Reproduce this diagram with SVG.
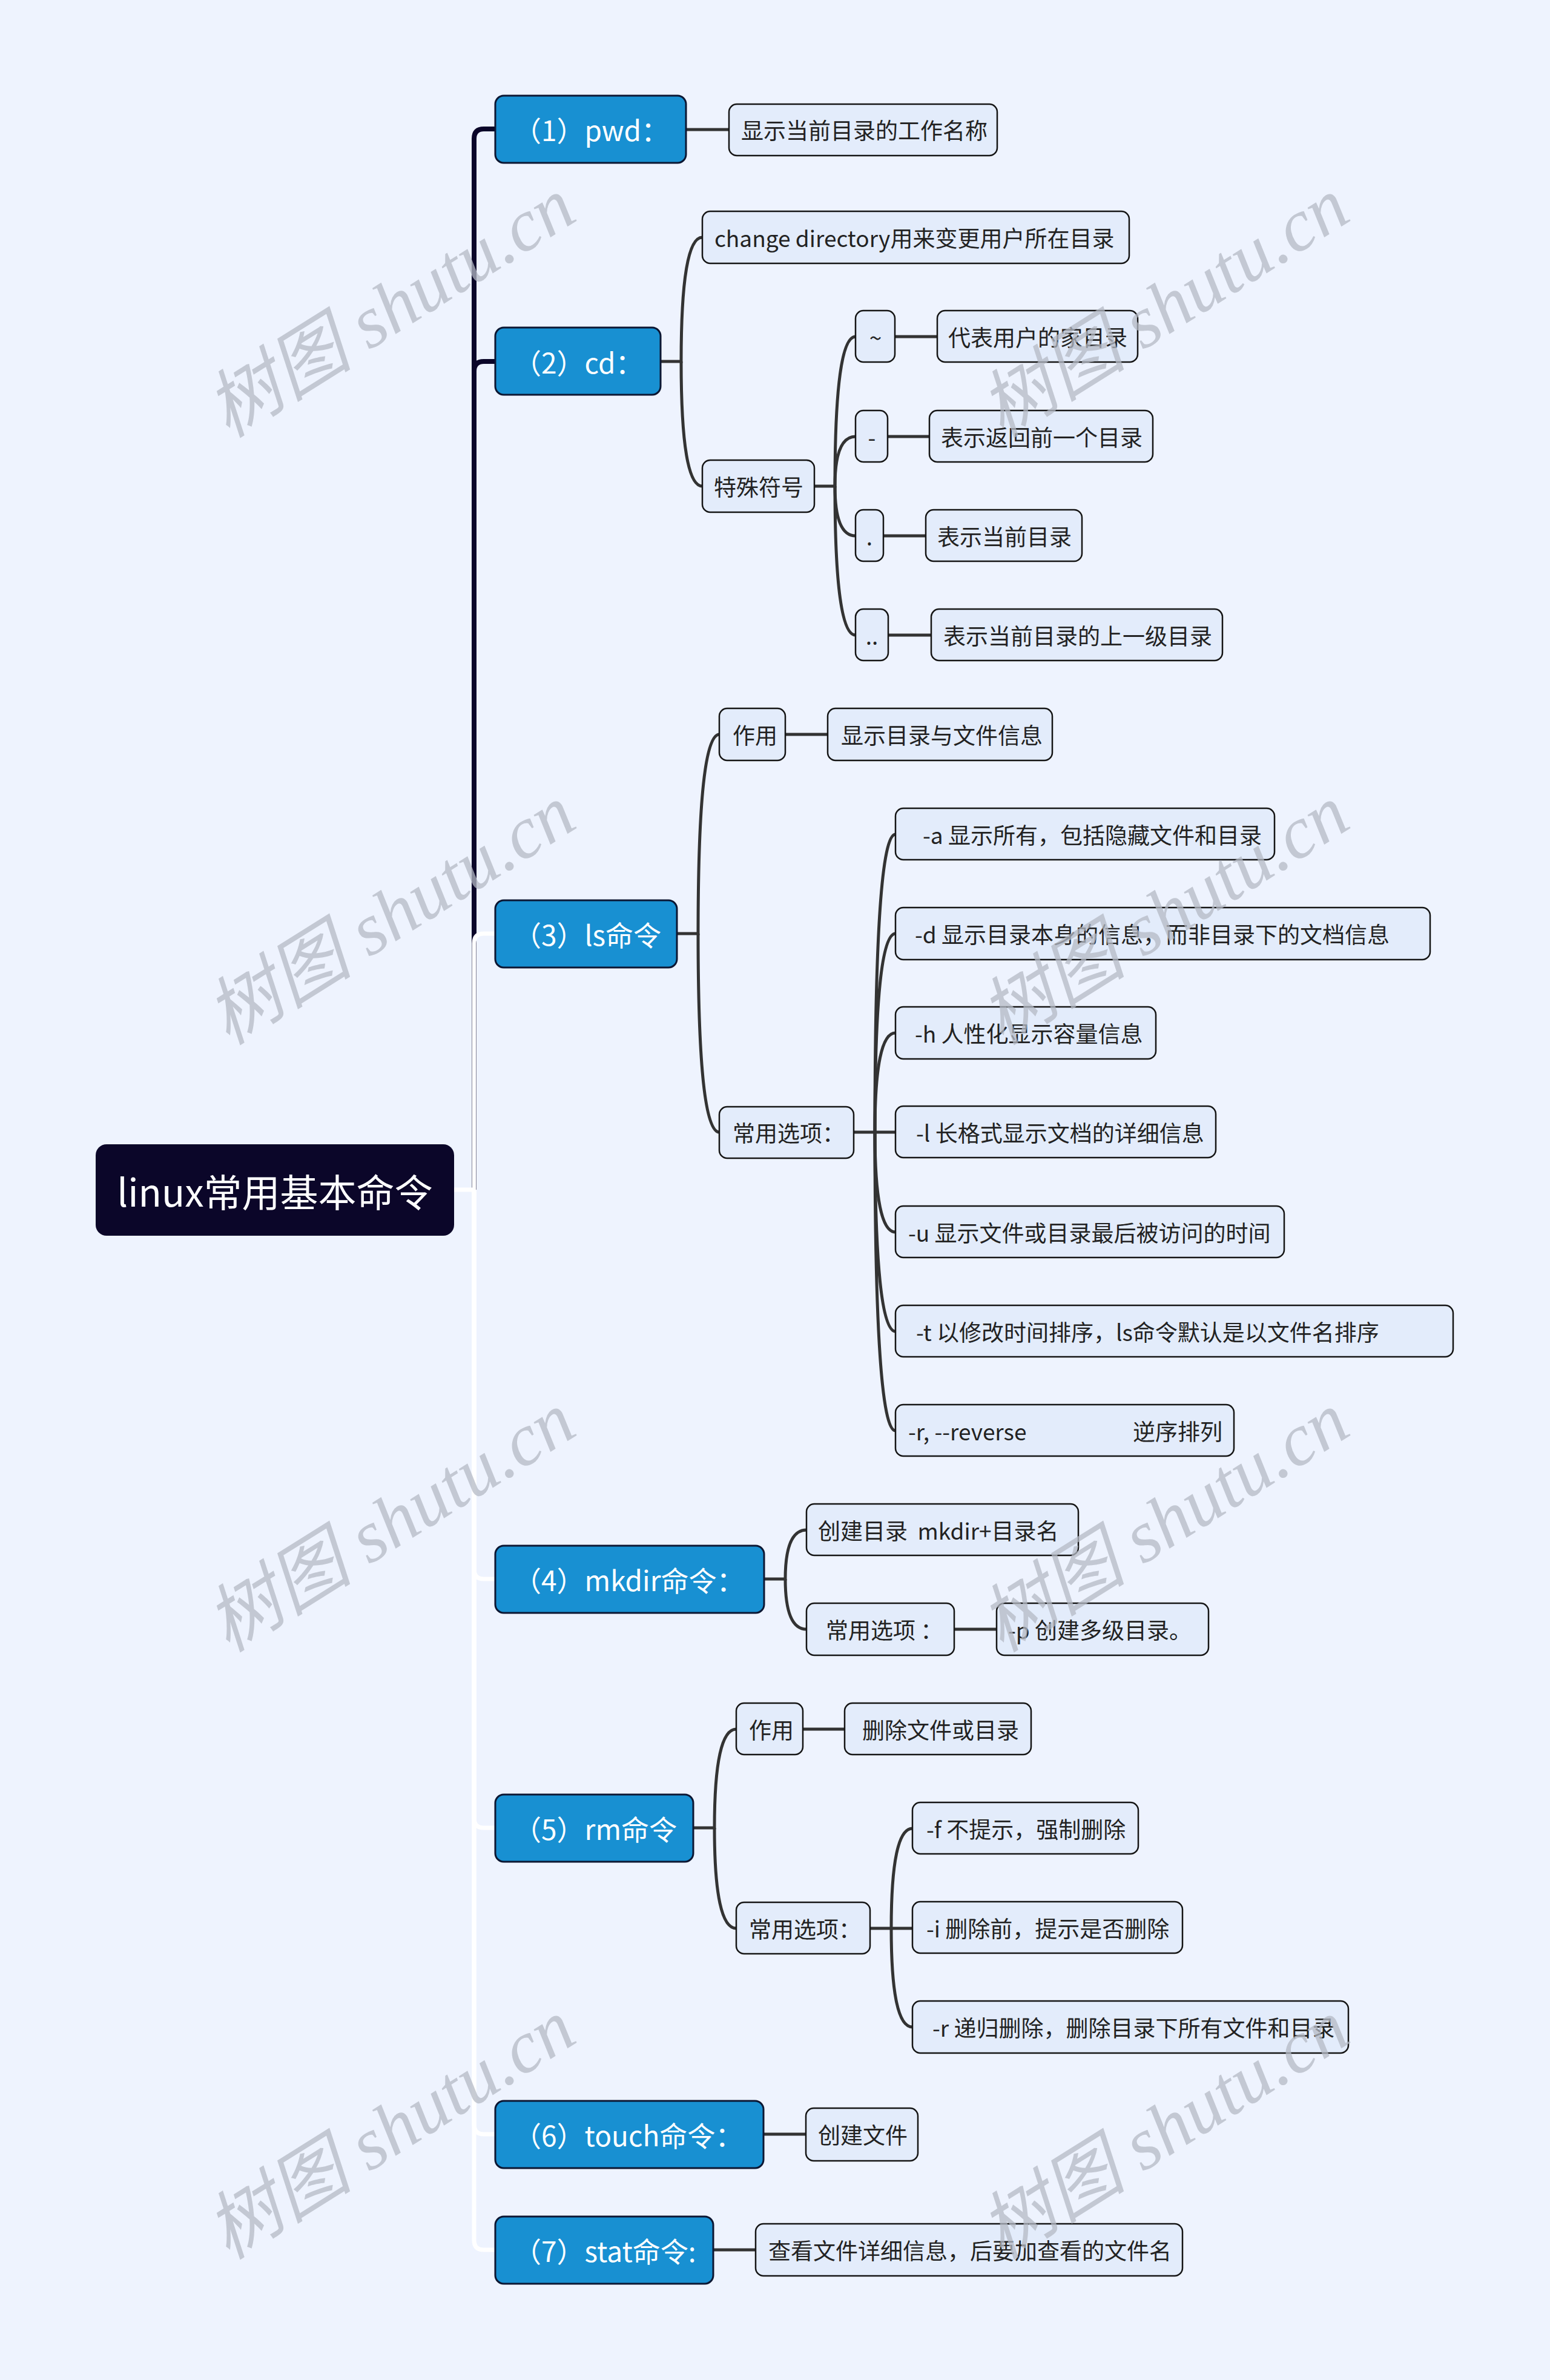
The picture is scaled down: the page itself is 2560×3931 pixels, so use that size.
<svg xmlns="http://www.w3.org/2000/svg" width="2560" height="3931" viewBox="0 0 2560 3931">
<style>
text{font-family:"Noto Sans CJK SC","Noto Sans",sans-serif;dominant-baseline:central}
.root rect{fill:#0b0629}
.root text{fill:#fff;font-size:63px;text-anchor:middle}
.l1 rect{fill:#1890d2;stroke:#0c1733;stroke-width:3}
.l1 text{fill:#fff;font-size:46px}
.l2 rect{fill:#e3ecfb;stroke:#151515;stroke-width:2.5}
.l2 text{fill:#222;font-size:37px}
.l2 text.mid{text-anchor:middle}
.c path{fill:none;stroke:#333;stroke-width:5}
.c path.dk{stroke:#0b0629;stroke-width:8}
.c path.wh{stroke:#fff;stroke-width:7}
.wm text{font-family:"Liberation Serif","Noto Sans CJK SC",serif;font-style:italic;font-size:122px;fill:#b4b9c4;fill-opacity:0.75;text-anchor:middle}
</style>
<rect x="0" y="0" width="2560" height="3931" fill="#eef3fe"/>

<g id="connectors" class="c">
  <path class="dk" d="M783,1965 V229 Q783,213 799,213 H818"/>
  <path class="dk" d="M783,1965 V613 Q783,597 799,597 H818"/>
  <path class="wh" d="M750,1965 H783"/>
  <path class="wh" d="M783,1965 V1558 Q783,1542 799,1542 H818"/>
  <path class="wh" d="M783,1965 V2592 Q783,2608 799,2608 H818"/>
  <path class="wh" d="M783,1965 V3003 Q783,3019 799,3019 H818"/>
  <path class="wh" d="M783,1965 V3509 Q783,3525 799,3525 H818"/>
  <path class="wh" d="M783,1965 V3700 Q783,3716 799,3716 H818"/>

  <path d="M1133,214 H1204"/>

  <path d="M1091,597 H1125 Q1125,392 1160,392"/>
  <path d="M1125,597 Q1125,803 1160,803"/>
  <path d="M1345,803 H1379 Q1379,556 1413,556"/>
  <path d="M1379,803 Q1379,721 1413,721"/>
  <path d="M1379,803 Q1379,885 1413,885"/>
  <path d="M1379,803 Q1379,1049 1413,1049"/>
  <path d="M1478,556 H1548"/>
  <path d="M1466,721 H1535"/>
  <path d="M1459,885 H1529"/>
  <path d="M1467,1049 H1538"/>

  <path d="M1118,1542 H1153 Q1153,1213 1188,1213"/>
  <path d="M1153,1542 Q1153,1870 1188,1870"/>
  <path d="M1297,1213 H1367"/>
  <path d="M1410,1870 H1445 Q1445,1378 1479,1378"/>
  <path d="M1445,1870 Q1445,1542 1479,1542"/>
  <path d="M1445,1870 Q1445,1706 1479,1706"/>
  <path d="M1445,1870 H1479"/>
  <path d="M1445,1870 Q1445,2035 1479,2035"/>
  <path d="M1445,1870 Q1445,2199 1479,2199"/>
  <path d="M1445,1870 Q1445,2363 1479,2363"/>

  <path d="M1262,2608 H1297 Q1297,2527 1332,2527"/>
  <path d="M1297,2608 Q1297,2691 1332,2691"/>
  <path d="M1576,2691 H1646"/>

  <path d="M1145,3019 H1180 Q1180,2856 1216,2856"/>
  <path d="M1180,3019 Q1180,3185 1216,3185"/>
  <path d="M1326,2856 H1395"/>
  <path d="M1437,3185 H1472 Q1472,3020 1507,3020"/>
  <path d="M1472,3185 H1507"/>
  <path d="M1472,3185 Q1472,3348 1507,3348"/>

  <path d="M1261,3525 H1331"/>
  <path d="M1178,3716 H1248"/>
</g>

<g id="root" class="root"><rect x="158" y="1890" width="592" height="151" rx="18"/><text x="454" y="1965">linux常用基本命令</text></g>

<g id="n1" class="l1"><rect x="818" y="158" width="315" height="111" rx="14"/><text x="848" y="213">（1）pwd：</text></g>
<g id="n2" class="l1"><rect x="818" y="541" width="273" height="111" rx="14"/><text x="848" y="597">（2）cd：</text></g>
<g id="n3" class="l1"><rect x="818" y="1487" width="300" height="111" rx="14"/><text x="848" y="1542">（3）ls命令</text></g>
<g id="n4" class="l1"><rect x="818" y="2553" width="444" height="111" rx="14"/><text x="848" y="2608">（4）mkdir命令：</text></g>
<g id="n5" class="l1"><rect x="818" y="2964" width="327" height="111" rx="14"/><text x="848" y="3019">（5）rm命令</text></g>
<g id="n6" class="l1"><rect x="818" y="3470" width="443" height="111" rx="14"/><text x="848" y="3525">（6）touch命令：</text></g>
<g id="n7" class="l1"><rect x="818" y="3661" width="360" height="111" rx="14"/><text x="848" y="3716">（7）stat命令:</text></g>

<g id="n1a" class="l2"><rect x="1204" y="172" width="443" height="85" rx="13"/><text x="1224" y="214">显示当前目录的工作名称</text></g>

<g id="n2a" class="l2"><rect x="1160" y="349" width="705" height="86" rx="13"/><text x="1180" y="392">change directory用来变更用户所在目录</text></g>
<g id="n2b" class="l2"><rect x="1160" y="760" width="185" height="86" rx="13"/><text x="1179" y="803">特殊符号</text></g>
<g id="n2b1" class="l2"><rect x="1413" y="513" width="65" height="85" rx="13"/><text class="mid" x="1446" y="556">~</text></g>
<g id="n2b1a" class="l2"><rect x="1548" y="513" width="331" height="85" rx="13"/><text x="1566" y="556">代表用户的家目录</text></g>
<g id="n2b2" class="l2"><rect x="1413" y="678" width="53" height="85" rx="13"/><text class="mid" x="1440" y="721">-</text></g>
<g id="n2b2a" class="l2"><rect x="1535" y="678" width="369" height="85" rx="13"/><text x="1554" y="721">表示返回前一个目录</text></g>
<g id="n2b3" class="l2"><rect x="1413" y="842" width="46" height="85" rx="13"/><text class="mid" x="1436" y="885">.</text></g>
<g id="n2b3a" class="l2"><rect x="1529" y="842" width="258" height="85" rx="13"/><text x="1548" y="885">表示当前目录</text></g>
<g id="n2b4" class="l2"><rect x="1413" y="1006" width="54" height="85" rx="13"/><text class="mid" x="1440" y="1049">..</text></g>
<g id="n2b4a" class="l2"><rect x="1538" y="1006" width="481" height="85" rx="13"/><text x="1558" y="1049">表示当前目录的上一级目录</text></g>

<g id="n3a" class="l2"><rect x="1188" y="1170" width="109" height="86" rx="13"/><text x="1210" y="1213">作用</text></g>
<g id="n3a1" class="l2"><rect x="1367" y="1170" width="371" height="86" rx="13"/><text x="1389" y="1213">显示目录与文件信息</text></g>
<g id="n3b" class="l2"><rect x="1188" y="1828" width="222" height="85" rx="13"/><text x="1210" y="1870">常用选项：</text></g>
<g id="n3b1" class="l2"><rect x="1479" y="1335" width="626" height="85" rx="13"/><text x="1524" y="1378">-a 显示所有，包括隐藏文件和目录</text></g>
<g id="n3b2" class="l2"><rect x="1479" y="1499" width="883" height="86" rx="13"/><text x="1511" y="1542">-d 显示目录本身的信息，而非目录下的文档信息</text></g>
<g id="n3b3" class="l2"><rect x="1479" y="1663" width="430" height="86" rx="13"/><text x="1511" y="1706">-h 人性化显示容量信息</text></g>
<g id="n3b4" class="l2"><rect x="1479" y="1827" width="529" height="85" rx="13"/><text x="1513" y="1870">-l 长格式显示文档的详细信息</text></g>
<g id="n3b5" class="l2"><rect x="1479" y="1992" width="642" height="85" rx="13"/><text x="1500" y="2035">-u 显示文件或目录最后被访问的时间</text></g>
<g id="n3b6" class="l2"><rect x="1479" y="2156" width="921" height="85" rx="13"/><text x="1513" y="2199">-t 以修改时间排序，ls命令默认是以文件名排序</text></g>
<g id="n3b7" class="l2"><rect x="1479" y="2320" width="559" height="85" rx="13"/><text y="2363"><tspan x="1500">-r, --reverse</tspan><tspan x="1871">逆序排列</tspan></text></g>

<g id="n4a" class="l2"><rect x="1332" y="2484" width="449" height="85" rx="13"/><text x="1351" y="2527" xml:space="preserve">创建目录  mkdir+目录名</text></g>
<g id="n4b" class="l2"><rect x="1332" y="2648" width="244" height="86" rx="13"/><text x="1364" y="2691" xml:space="preserve">常用选项 ：</text></g>
<g id="n4b1" class="l2"><rect x="1646" y="2648" width="350" height="86" rx="13"/><text x="1665" y="2691">-p 创建多级目录。</text></g>

<g id="n5a" class="l2"><rect x="1216" y="2813" width="110" height="85" rx="13"/><text x="1237" y="2856">作用</text></g>
<g id="n5a1" class="l2"><rect x="1395" y="2813" width="308" height="85" rx="13"/><text x="1424" y="2856">删除文件或目录</text></g>
<g id="n5b" class="l2"><rect x="1216" y="3142" width="221" height="85" rx="13"/><text x="1237" y="3185">常用选项：</text></g>
<g id="n5b1" class="l2"><rect x="1507" y="2977" width="373" height="85" rx="13"/><text x="1530" y="3020">-f 不提示，强制删除</text></g>
<g id="n5b2" class="l2"><rect x="1507" y="3141" width="446" height="85" rx="13"/><text x="1530" y="3184">-i 删除前，提示是否删除</text></g>
<g id="n5b3" class="l2"><rect x="1507" y="3305" width="720" height="86" rx="13"/><text x="1540" y="3348">-r 递归删除，删除目录下所有文件和目录</text></g>

<g id="n6a" class="l2"><rect x="1331" y="3482" width="185" height="87" rx="13"/><text x="1351" y="3525">创建文件</text></g>
<g id="n7a" class="l2"><rect x="1248" y="3673" width="705" height="86" rx="13"/><text x="1269" y="3716">查看文件详细信息，后要加查看的文件名</text></g>

<g id="watermarks" class="wm">
  <text transform="translate(645,508) rotate(-32)">树图 shutu.cn</text>
  <text transform="translate(1923,508) rotate(-32)">树图 shutu.cn</text>
  <text transform="translate(645,1511) rotate(-32)">树图 shutu.cn</text>
  <text transform="translate(1923,1511) rotate(-32)">树图 shutu.cn</text>
  <text transform="translate(645,2514) rotate(-32)">树图 shutu.cn</text>
  <text transform="translate(1923,2514) rotate(-32)">树图 shutu.cn</text>
  <text transform="translate(645,3517) rotate(-32)">树图 shutu.cn</text>
  <text transform="translate(1923,3517) rotate(-32)">树图 shutu.cn</text>
</g>
</svg>
